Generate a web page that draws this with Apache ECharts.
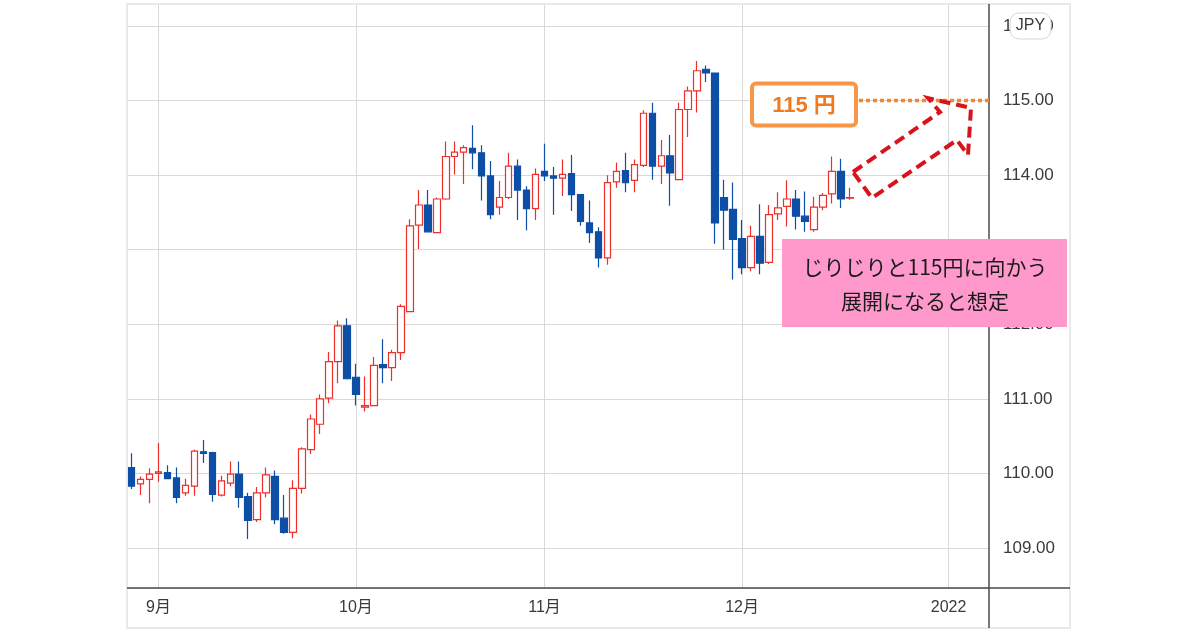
<!DOCTYPE html>
<html><head><meta charset="utf-8">
<script src="https://cdn.jsdelivr.net/npm/echarts@6/dist/echarts.min.js"></script>
<style>html,body{margin:0;padding:0;background:#fff}#c{width:1200px;height:630px}</style>
</head><body><div id="c"></div>
<script>
// weekday categories (trading days) from first to last date on the axis
const axisStart = '2021-08-27';
const axisEnd = '2022-01-07';
function weekdays(s, e) {
  const out = [];
  const d = new Date(s + 'T00:00:00Z'), end = new Date(e + 'T00:00:00Z');
  while (d <= end) {
    const w = d.getUTCDay();
    if (w !== 0 && w !== 6) out.push(d.toISOString().slice(0, 10));
    d.setUTCDate(d.getUTCDate() + 1);
  }
  return out;
}
const categories = weekdays(axisStart, axisEnd);
const monthStarts = ['2021-09-01', '2021-10-01', '2021-11-01', '2021-12-01', '2022-01-03'];
const monthLabels = ['9月', '10月', '11月', '12月', '2022'];

const openP = [110.08,109.86,109.92,110.00,110.01,109.94,109.74,109.83,110.29,110.28,
109.71,109.87,109.99,109.69,109.38,109.74,109.96,109.40,109.21,109.80,
110.32,110.66,111.01,111.50,111.98,111.29,110.89,110.91,111.46,111.42,
111.62,112.17,113.33,113.60,113.23,113.68,114.25,114.31,114.36,114.30,
113.99,113.57,113.70,114.12,113.80,113.55,114.05,113.99,113.96,114.02,
113.74,113.36,113.24,112.89,113.91,114.06,113.93,114.13,114.83,114.12,
114.26,113.94,114.88,115.13,115.42,115.37,113.70,113.54,113.15,112.76,
113.18,112.83,113.48,113.58,113.68,113.45,113.27,113.57,113.75,114.05,
113.69];
const closeP = [109.83,109.92,109.99,110.02,109.93,109.68,109.84,110.30,110.27,109.72,
109.90,109.99,109.68,109.37,109.74,109.98,109.38,109.21,109.80,110.33,
110.73,111.00,111.50,111.98,111.27,111.06,110.91,111.45,111.42,111.62,
112.24,113.32,113.60,113.24,113.68,114.25,114.31,114.37,114.30,113.99,
113.47,113.70,114.12,113.80,113.55,114.01,113.99,113.96,114.01,113.74,
113.38,113.23,112.89,113.90,114.05,113.90,114.14,114.83,114.12,114.26,
114.03,114.88,115.13,115.40,115.37,113.36,113.53,113.14,112.76,113.18,
112.82,113.47,113.56,113.68,113.45,113.38,113.57,113.73,114.05,113.68,
113.70];
const lowP = [109.79,109.71,109.60,109.89,109.93,109.60,109.70,109.70,110.14,109.62,
109.69,109.83,109.54,109.12,109.35,109.68,109.32,109.19,109.13,109.73,
110.26,110.53,110.94,111.21,111.26,110.91,110.83,110.90,111.21,111.24,
111.52,112.17,113.01,113.24,113.22,113.67,114.01,113.88,114.08,113.66,
113.41,113.47,113.68,113.40,113.26,113.40,113.92,113.47,113.72,113.52,
113.32,113.09,112.76,112.80,113.83,113.77,113.77,114.11,113.94,113.88,
113.59,113.94,114.51,114.84,115.25,113.08,113.00,112.60,112.67,112.71,
112.67,112.81,113.40,113.31,113.27,113.24,113.24,113.53,113.62,113.56,
113.67];
const highP = [110.27,109.96,110.07,110.41,110.11,110.08,109.93,110.32,110.45,110.29,
109.97,110.16,110.16,109.74,109.82,110.08,110.04,109.71,109.91,110.35,
110.79,111.06,111.63,112.05,112.08,111.47,111.30,111.56,111.80,111.66,
112.27,113.41,113.80,113.80,113.70,114.45,114.45,114.40,114.67,114.40,
114.19,113.92,114.30,114.21,113.85,114.09,114.42,114.11,114.21,114.27,
113.74,113.66,113.30,114.00,114.17,114.30,114.21,114.87,114.97,114.47,
114.54,114.97,115.19,115.53,115.47,115.37,113.94,113.90,113.40,113.32,
113.61,113.60,113.77,113.93,113.80,113.78,113.71,113.76,114.25,114.22,
113.83];

const targetLevel = 115;
const targetText = '115 円';
const noteText = 'じりじりと115円に向かう\n展開になると想定';
const currencyText = 'JPY';

const candleData = openP.map((o, i) => [o, closeP[i], lowP[i], highP[i]]);

const UP = '#ef2f2a', DOWN = '#0d4ea6';
const chart = echarts.init(document.getElementById('c'), null, { renderer: 'canvas' });
const option = {
  animation: false,
  backgroundColor: '#fff',
  grid: { left: 127, top: 4, width: 862, height: 584 },
  xAxis: {
    type: 'category',
    data: categories,
    boundaryGap: true,
    axisLine: { show: false },
    axisTick: { show: false },
    splitLine: { show: false },
    axisLabel: {
      interval: (idx, val) => monthStarts.indexOf(val) >= 0,
      formatter: (val) => { const k = monthStarts.indexOf(val); return k >= 0 ? monthLabels[k] : ''; },
      color: '#3a3a3a', fontSize: 16, fontFamily: 'Liberation Sans, Noto Sans CJK JP', margin: 12
    }
  },
  yAxis: {
    type: 'value',
    position: 'right',
    min: 108.464, max: 116.295,
    minInterval: 1, maxInterval: 1,
    scale: true,
    axisLine: { show: false },
    axisTick: { show: false },
    splitLine: { show: true, lineStyle: { color: '#d9d9d9', width: 1 } },
    axisLabel: {
      showMinLabel: false, showMaxLabel: false,
      formatter: (v) => Math.abs(v - Math.round(v)) > 1e-6 ? '' : v.toFixed(2),
      color: '#3a3a3a', fontSize: 17, fontFamily: 'Liberation Sans', margin: 14, align: 'left'
    }
  },
  series: [{
    type: 'candlestick',
    data: candleData,
    barWidth: 7,
    z: 3,
    itemStyle: { color: '#ffffff', color0: DOWN, borderColor: UP, borderColor0: DOWN, borderWidth: 1.2 },
    markLine: {
      silent: true, z: 1, symbol: ['none', 'none'], label: { show: false },
      lineStyle: { color: '#d9d9d9', width: 1, type: 'solid' },
      emphasis: { disabled: true },
      data: monthStarts.map(d => ({ xAxis: d }))
    }
  }]
};
chart.setOption(option);

const yT = chart.convertToPixel({ yAxisIndex: 0 }, targetLevel);
const yTop = chart.convertToPixel({ yAxisIndex: 0 }, 116);
const axisX = 989, axisY = 588;
chart.setOption({
  graphic: { elements: [
    { type: 'rect', z: 50, silent: true, shape: { x: 127, y: 4, width: 943, height: 624 },
      style: { fill: 'none', stroke: '#e9e9e9', lineWidth: 2 } },
    { type: 'line', z: 51, silent: true, shape: { x1: 127, y1: axisY, x2: 1070, y2: axisY },
      style: { stroke: '#4a4a4a', lineWidth: 1.5 } },
    { type: 'line', z: 51, silent: true, shape: { x1: axisX, y1: 4, x2: axisX, y2: 628 },
      style: { stroke: '#4a4a4a', lineWidth: 1.5 } },
    { type: 'rect', z: 60, silent: true, shape: { x: 1010, y: yTop - 13, width: 41, height: 26, r: 9 },
      style: { fill: '#fff', stroke: '#d6d6d6', lineWidth: 1 } },
    { type: 'text', z: 61, silent: true,
      style: { text: currencyText, x: 1030.5, y: yTop, fill: '#3a3a3a', font: '16px Liberation Sans', textAlign: 'center', textVerticalAlign: 'middle' } },
    { type: 'line', z: 70, silent: true, shape: { x1: 859, y1: yT, x2: axisX, y2: yT },
      style: { stroke: '#f4862e', lineWidth: 3.5, lineDash: [4, 3] } },
    { type: 'rect', z: 70, silent: true, shape: { x: 752, y: yT - 17, width: 104, height: 42, r: 4 },
      style: { fill: '#fff', stroke: '#f79646', lineWidth: 4 } },
    { type: 'text', z: 71, silent: true,
      style: { text: targetText, x: 804, y: yT + 5, fill: '#ef7a1f', font: 'bold 22px Liberation Sans, Noto Sans CJK JP', textAlign: 'center', textVerticalAlign: 'middle' } },
    { type: 'polygon', z: 72, silent: true,
      shape: { points: [[853, 172], [940, 112], [928, 98], [971, 108], [968, 155], [957, 140], [872, 198]] },
      style: { fill: 'none', stroke: '#d7141c', lineWidth: 4, lineDash: [11, 6] } },
    { type: 'rect', z: 80, silent: true, shape: { x: 782, y: 239, width: 285, height: 88 },
      style: { fill: '#ff99cc' } },
    { type: 'text', z: 81, silent: true,
      style: { text: noteText, x: 925, y: 284, fill: '#1a1a1a', font: '21px Noto Sans CJK JP', lineHeight: 34, textAlign: 'center', textVerticalAlign: 'middle' } }
  ] }
});
</script>
</body></html>
